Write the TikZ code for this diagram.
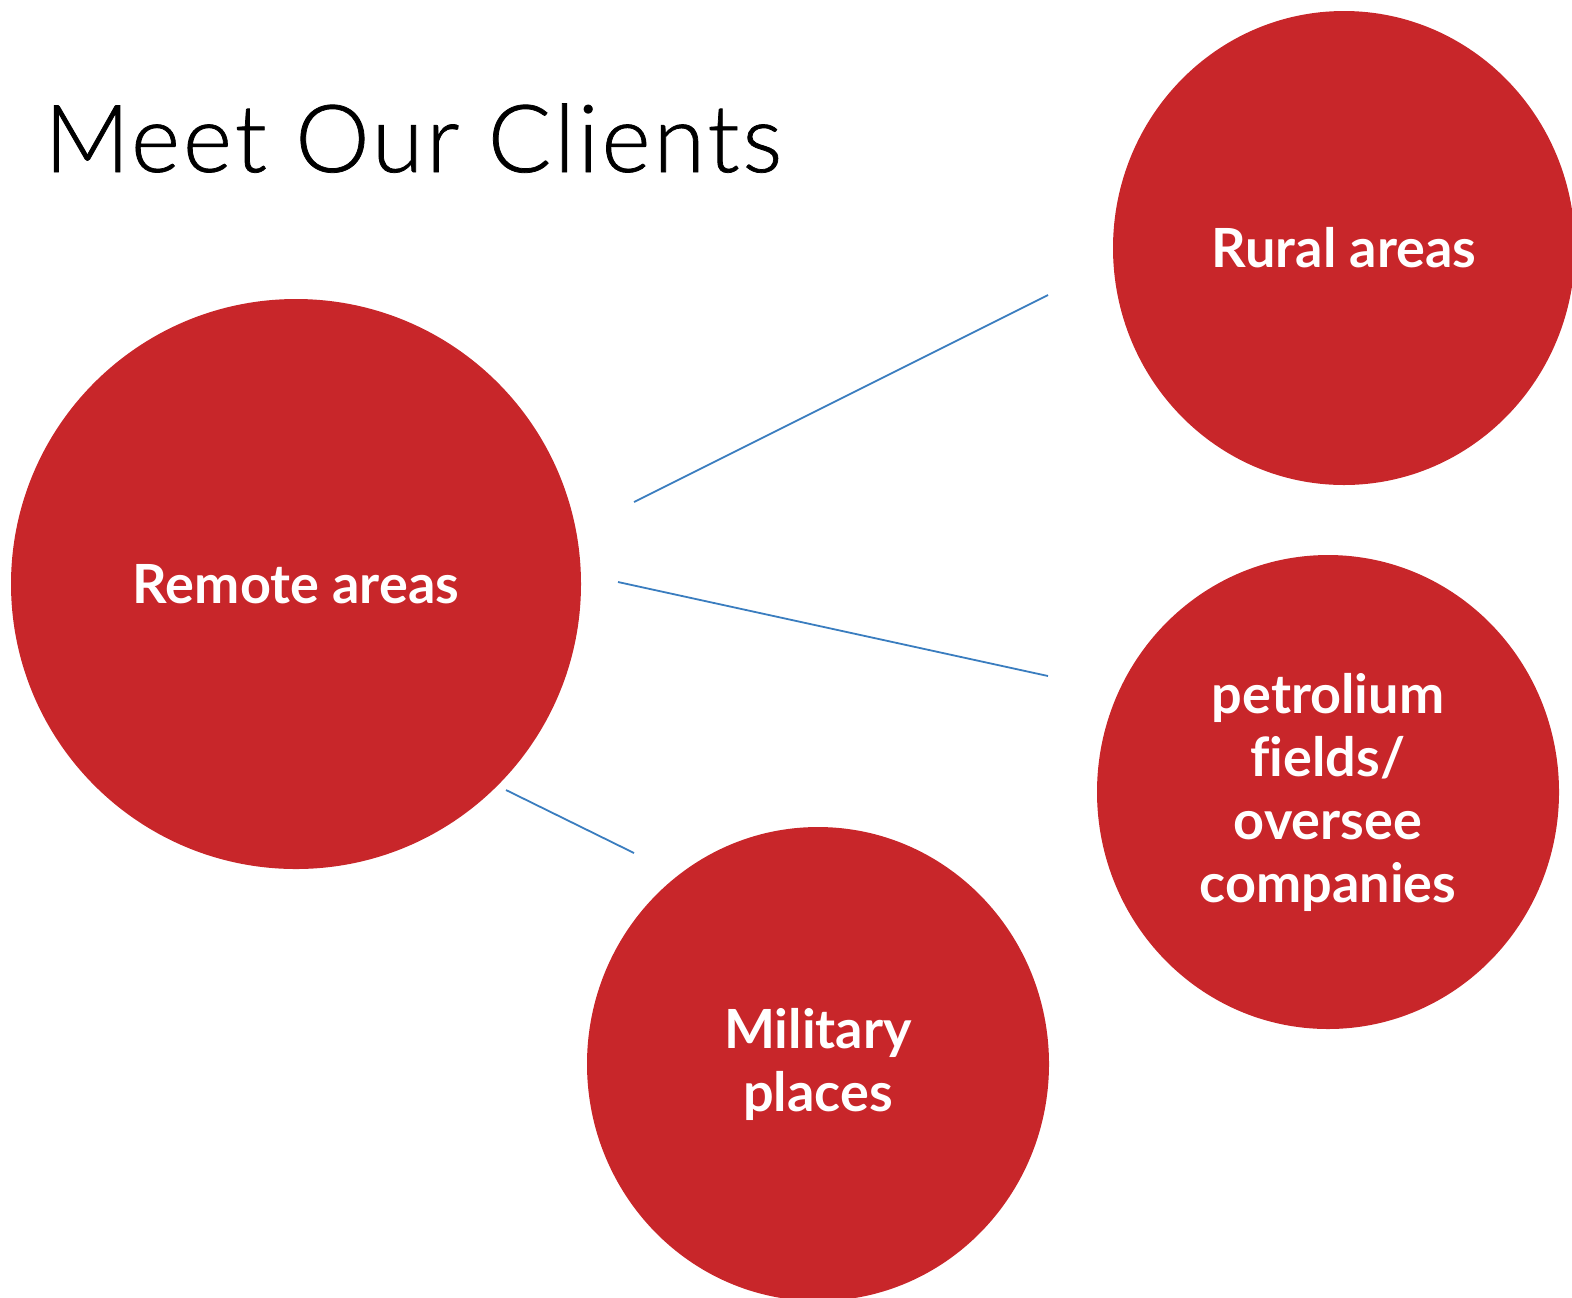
\documentclass[tikz,border=0pt]{standalone}
\usepackage{fontspec}
\setmainfont{Lato}[Ligatures=NoCommon]
\newfontfamily\titlefont{Lato Light}[LetterSpace=3, FakeBold=0.8]
\usetikzlibrary{shapes.geometric}

\definecolor{clientred}{HTML}{C8262A}
\definecolor{linkblue}{HTML}{3A7DBF}

\tikzset{
	client/.style={ellipse, fill=clientred, text=white, align=center,
		font=\fontsize{27}{31.5}\selectfont\bfseries, inner sep=0pt},
	link/.style={linkblue, line width=0.9pt}
}

\begin{document}
\begin{tikzpicture}[x=0.5pt, y=-0.5pt]
		\useasboundingbox (0, 0) rectangle (1572, 1297);

		% title
		\node [anchor=base west, inner sep=0pt, font=\fontsize{47}{50}\titlefont] (title) at (44, 172) {Meet Our Clients};

		% clients
		\node [client, minimum width=285pt, minimum height=285pt] (remote) at (296, 584) {Remote areas};
		\node [client, minimum width=231pt, minimum height=237pt] (rural) at (1344, 248) {Rural areas};
		\node [client, minimum width=231pt, minimum height=237pt] (petrol) at (1328, 792) {petrolium\\fields/\\oversee\\companies};
		\node [client, minimum width=231pt, minimum height=237pt] (military) at (818, 1064) {Military\\places};

		% links
		\coordinate (rural in) at (1048, 295);
		\coordinate (remote out1) at (634, 502);
		\coordinate (petrol in) at (1048, 676);
		\coordinate (remote out2) at (618, 582);
		\coordinate (military in) at (634, 853);
		\coordinate (remote out3) at (506, 790);

		\draw [link] (remote out1) -- (rural in);
		\draw [link] (remote out2) -- (petrol in);
		\draw [link] (remote out3) -- (military in);
	\end{tikzpicture}
\end{document}
